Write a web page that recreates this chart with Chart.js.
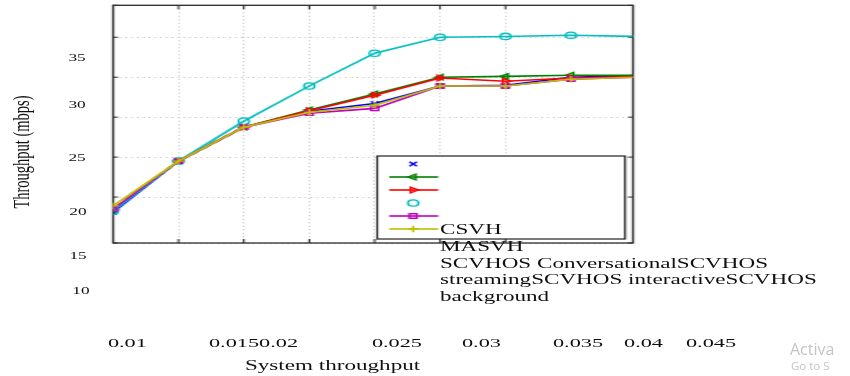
<!DOCTYPE html>
<html>
<head>
<meta charset="utf-8">
<script src="https://cdn.jsdelivr.net/npm/chart.js@4"></script>
<style>
html, body { margin: 0; padding: 0; background: #fff; overflow: hidden; }
body { width: 850px; height: 376px; position: relative; }
/* the whole figure is stretched horizontally, like the reference */
#page { position: absolute; left: 0; top: 0; width: 515px; height: 376px; transform: scaleX(1.6505); transform-origin: 0 0; }
#chartBox { position: absolute; left: 0; top: 0; width: 515px; height: 376px; }
.t { position: absolute; font-family: "Liberation Serif", "Times New Roman", serif; color: #101010; white-space: pre; line-height: 1; transform: translate(-50%, -50%); }
.wm { position: absolute; font-family: "Open Sans", "DejaVu Sans", sans-serif; color: #c4c4c4; white-space: pre; }
</style>
</head>
<body>
<div id="page">
  <div id="chartBox"><canvas id="thrChart"></canvas></div>
</div>
<div class="wm" style="left:790px;top:338px;font-size:16px;">Activa</div>
<div class="wm" style="left:791px;top:358px;font-size:11.5px;">Go to S</div>
<script>
// 資料
const xValues = [0, 1, 2, 3, 4, 5, 6, 7, 8];
const seriesNames = ["CSVH", "MASVH", "SCVHOS Conversational", "SCVHOS streaming", "SCVHOS interactive", "SCVHOS background"];
const csvh = [18.1, 24.5, 28.75, 30.75, 31.7, 33.9, 34.0, 35.0, 35.2];
const masvh = [18.4, 24.5, 28.75, 30.9, 32.9, 35.0, 35.1, 35.25, 35.25];
const conversational = [18.4, 24.5, 28.75, 30.8, 32.75, 34.9, 34.5, 34.9, 35.1];
const streaming = [18.25, 24.5, 29.5, 33.9, 38.0, 40.0, 40.1, 40.25, 40.1];
const interactive = [18.5, 24.5, 28.75, 30.5, 31.1, 33.9, 33.9, 34.75, 35.0];
const background = [18.9, 24.5, 28.75, 30.6, 31.5, 33.9, 33.9, 34.75, 35.0];

const yTickLabels = ["35", "30", "25", "20", "15", "10"];
const xTickLabels = ["0.01", "0.0150.02", "0.025", "0.03", "0.035", "0.04", "0.045"];
const xTitle = "System throughput";
const yTitle = "Throughput (mbps)";
// 圖例文字 (原圖換行錯亂)
const legendLines = ["CSVH", "MASVH", "SCVHOS ConversationalSCVHOS", "streamingSCVHOS interactiveSCVHOS", "background"];

// 版面位置
const yTickPos = [[46.7, 58], [46.7, 105], [46.7, 158], [47.2, 212], [47.3, 256], [49.1, 291]];
const xTickPos = [77.2, 153.6, 240.5, 291.7, 350.2, 389.9, 430.8];

const page = document.getElementById("page");
function addText(txt, x, y, size, extra) {
    const d = document.createElement("div");
    d.className = "t";
    d.textContent = txt;
    d.style.left = x + "px";
    d.style.top = y + "px";
    d.style.fontSize = size + "px";
    if (extra) d.style.transform = extra;
    page.appendChild(d);
}
yTickLabels.forEach((t, i) => addText(t, yTickPos[i][0], yTickPos[i][1], 10.5));
xTickLabels.forEach((t, i) => addText(t, xTickPos[i], 343, 13.5));
addText(xTitle, 201.5, 366, 14);
addText(yTitle, 12.7, 152, 14.5, "translate(-50%, -50%) rotate(-90deg)");
const leg = document.createElement("div");
leg.className = "t";
leg.style.transform = "none";
leg.style.left = "266.6px";
leg.style.top = "222px";
leg.style.fontSize = "14px";
leg.style.lineHeight = "16.8px";
leg.textContent = legendLines.join("\n");
page.appendChild(leg);

const colors = ["#0000ff", "#008000", "#ff0000", "#00bfbf", "#bf00bf", "#bfbf00"];
const styles = ["crossRot", "triangle", "triangle", "circle", "rect", "cross"];
const rotations = [0, 270, 90, 0, 0, 0];
const legendHasLine = [false, true, true, false, true, true];
const allData = [csvh, masvh, conversational, streaming, interactive, background];

const datasets = allData.map((vals, i) => ({
    label: seriesNames[i],
    data: vals.map((v, j) => ({ x: xValues[j], y: v })),
    borderColor: colors[i],
    backgroundColor: "rgba(0,0,0,0)",
    pointBackgroundColor: "rgba(0,0,0,0)",
    pointBorderColor: colors[i],
    pointStyle: styles[i],
    rotation: rotations[i],
    pointRadius: vals.map((v, j) => j === vals.length - 1 ? 0 : 3.2),
    pointBorderWidth: 1.3,
    borderWidth: 1.6,
    order: 5 - i,
    clip: 0
}));

// 外框與內側刻度
const framePlugin = {
    id: "frame",
    beforeDatasetsDraw(chart) {
        const { ctx, chartArea: a, scales } = chart;
        ctx.save();
        ctx.strokeStyle = "#2b2b2b";
        ctx.lineWidth = 1;
        ctx.beginPath();
        scales.x.ticks.forEach(t => {
            const px = scales.x.getPixelForValue(t.value);
            ctx.moveTo(px, a.top); ctx.lineTo(px, a.top + 4);
            ctx.moveTo(px, a.bottom); ctx.lineTo(px, a.bottom - 4);
        });
        scales.y.ticks.forEach(t => {
            const py = scales.y.getPixelForValue(t.value);
            ctx.moveTo(a.left, py); ctx.lineTo(a.left + 3, py);
            ctx.moveTo(a.right, py); ctx.lineTo(a.right - 3, py);
        });
        ctx.stroke();
        ctx.lineWidth = 1.3;
        ctx.strokeRect(a.left, a.top, a.right - a.left, a.bottom - a.top);
        ctx.restore();
    },
    afterDatasetsDraw(chart) {
        const ctx = chart.ctx;
        const box = { l: 228.5, t: 156, r: 378.7, b: 239 };
        ctx.save();
        ctx.fillStyle = "#fff";
        ctx.fillRect(box.l, box.t, box.r - box.l, box.b - box.t);
        ctx.strokeStyle = "#222";
        ctx.lineWidth = 1.2;
        ctx.strokeRect(box.l, box.t, box.r - box.l, box.b - box.t);
        chart.data.datasets.forEach((ds, i) => {
            const y = 164 + i * 13;
            if (legendHasLine[i]) {
                ctx.strokeStyle = ds.borderColor;
                ctx.lineWidth = 1.6;
                ctx.beginPath();
                ctx.moveTo(235.8, y); ctx.lineTo(265.5, y);
                ctx.stroke();
            }
            ctx.strokeStyle = ds.borderColor;
            ctx.fillStyle = "rgba(0,0,0,0)";
            ctx.lineWidth = 1.3;
            Chart.helpers.drawPoint(ctx, {
                pointStyle: ds.pointStyle, rotation: ds.rotation, radius: 3.2, borderWidth: 1.3
            }, 250.3, y);
        });
        ctx.restore();
    }
};

const ctx = document.getElementById("thrChart").getContext("2d");
const chart = new Chart(ctx, {
    type: "line",
    data: { datasets },
    options: {
        responsive: true,
        maintainAspectRatio: false,
        animation: false,
        layout: { padding: { left: 68.5, right: 131.5, top: 5, bottom: 133 } },
        plugins: { legend: { display: false }, tooltip: { enabled: false } },
        scales: {
            x: {
                type: "linear", min: 0, max: 7.95,
                ticks: { display: false, stepSize: 1 },
                grid: { color: "#c6c6c6", lineWidth: 1, drawTicks: false },
                border: { display: false, dash: [1, 2.5] }
            },
            y: {
                type: "linear", min: 14.25, max: 44,
                ticks: { display: false, stepSize: 5 },
                grid: { color: "#c6c6c6", lineWidth: 1, drawTicks: false },
                border: { display: false, dash: [1, 2.5] }
            }
        }
    },
    plugins: [framePlugin]
});
</script>
</body>
</html>
